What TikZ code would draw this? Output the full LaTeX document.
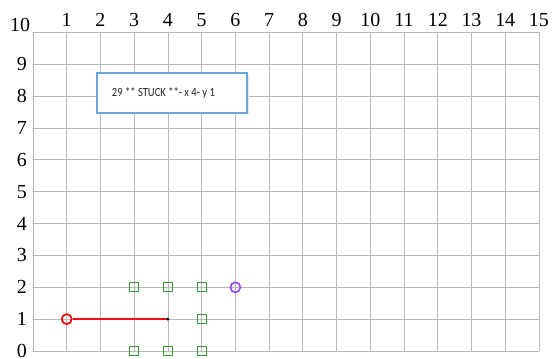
\documentclass[tikz,border=0pt]{standalone}
\usepackage{fontspec}
\setmainfont{Liberation Serif}
\newfontfamily\boxfont[FakeStretch=0.85]{Carlito}
\definecolor{gridgray}{HTML}{B8B8B8}
\definecolor{boxblue}{HTML}{6AA6DE}
\definecolor{obsgreen}{HTML}{2E9A2E}
\definecolor{goalpurple}{HTML}{9B3CF0}
\definecolor{pathred}{HTML}{F01010}
\tikzset{
  gridline/.style={draw=gridgray, line width=0.8bp},
  axislabel/.style={font=\fontsize{20}{20}\selectfont, inner sep=0pt, anchor=center},
  obstacle/.style={draw=obsgreen, line width=1.2bp, minimum size=9bp, inner sep=0pt, rectangle},
  startpt/.style={draw=pathred, line width=1.8bp, circle, minimum size=10bp, inner sep=0pt},
  goalpt/.style={draw=goalpurple, line width=1.6bp, circle, minimum size=10bp, inner sep=0pt},
  msgbox/.style={draw=boxblue, fill=white, line width=1.3bp, minimum width=150bp, minimum height=40bp, inner sep=0pt},
  msgtext/.style={font=\boxfont\fontsize{12.5}{14}\selectfont, text=black!85, inner sep=0pt},
}
\begin{document}
\begin{tikzpicture}[x=33.73bp, y=31.85bp]
\useasboundingbox (-33bp,-8bp) rectangle (521bp,351bp);
\clip (-33bp,-8bp) rectangle (521bp,351bp);
% grid
\foreach \i in {0,...,15} \draw[gridline] (\i,0) -- (\i,10);
\foreach \j in {0,...,10} \draw[gridline] (0,\j) -- (15,\j);
% top labels
\foreach \i in {1,...,15} \node[axislabel] (t\i) at (\i,10.39) {\i};
% left labels
\foreach \j in {0,...,9} \node[axislabel] (l\j) at (-0.33,\j) {\j};
\node[axislabel] (l10) at (-0.38,10.23) {10};
% message box with soft shadow
\fill[black!10] (65.5bp,236.5bp) rectangle (215.5bp,276.5bp);
\node[msgbox] (msg) at (139bp,258bp) {};
\node[msgtext] (msgt) at (130.5bp,258bp) {29 ** STUCK **- x 4- y 1};
% path
\node[startpt] (start) at (1,1) {};
\coordinate (cur) at (4,1);
\draw[pathred, line width=1.8bp] (start) -- (cur);
\fill[black] (cur) circle (1.6bp);
% obstacles
\foreach \p/\n in {{3,2}/a,{4,2}/b,{5,2}/c,{5,1}/d,{3,0}/e,{4,0}/f,{5,0}/g}
  \node[obstacle] (o\n) at (\p) {};
% goal
\node[goalpt] (goal) at (6,2) {};
\end{tikzpicture}
\end{document}
